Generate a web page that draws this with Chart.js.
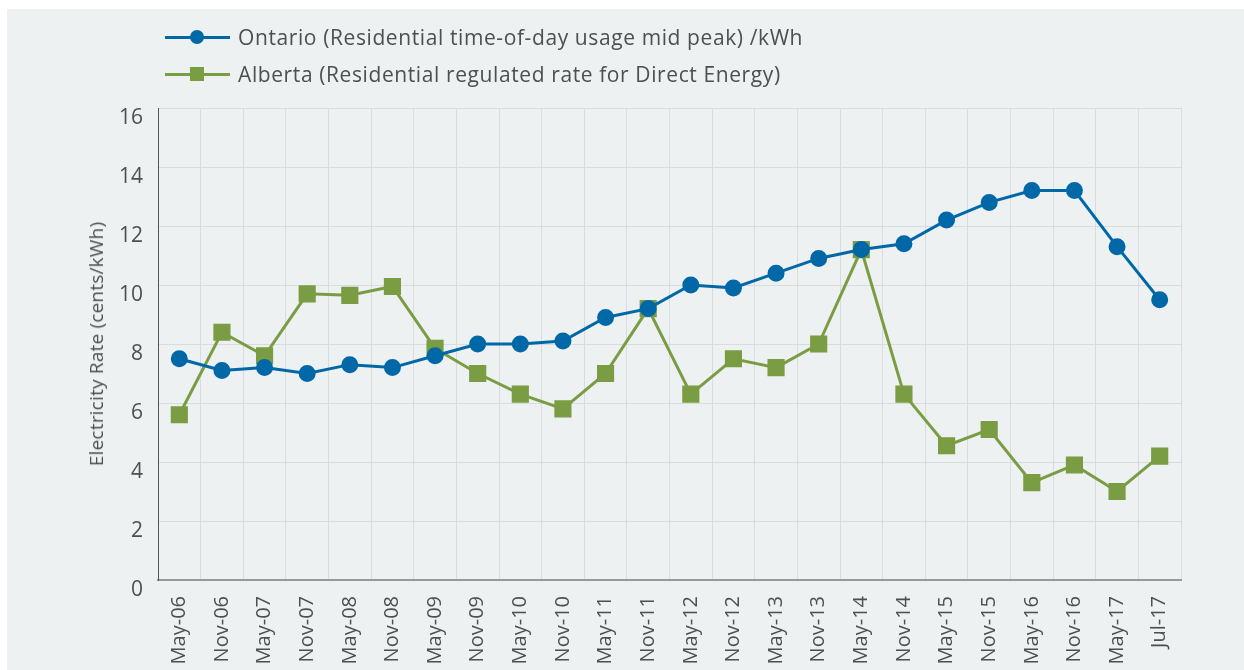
<!DOCTYPE html>
<html>
<head>
<meta charset="utf-8">
<script src="https://cdn.jsdelivr.net/npm/chart.js@4.4.1/dist/chart.umd.min.js"></script>
<style>
  body { margin: 0; background: #fff; width: 1244px; height: 670px; overflow: hidden; font-family: "Open Sans", sans-serif; }
  #panel { position: absolute; left: 7px; top: 9px; width: 1237px; height: 661px; background: #edf1f2; }
  #chart { position: absolute; left: 0; top: 0; }
  .legend { position: absolute; left: 158px; top: 10px; color: #4d4f52; font-size: 21px; letter-spacing: 0.6px; }
  .item { position: relative; height: 37px; line-height: 37px; padding-left: 73px; white-space: nowrap; }
  .line { position: absolute; left: 0; top: 17px; width: 65px; height: 3px; }
  .mark { position: absolute; left: 25px; width: 14px; height: 14px; top: 11px; }
  #ytitle { position: absolute; left: 89px; top: 335px; transform: translate(-50%, -50%) rotate(-90deg);
    white-space: nowrap; color: #4d4f52; font-size: 19px; letter-spacing: 0.2px; }
</style>
</head>
<body>
<div id="panel">
  <canvas id="chart" width="1237" height="661"></canvas>
  <div class="legend">
    <div class="item"><span class="line" style="background:#0068a6"></span><span class="mark" style="background:#0068a6;border-radius:50%"></span>Ontario (Residential time-of-day usage mid peak) /kWh</div>
    <div class="item"><span class="line" style="background:#7a9c43"></span><span class="mark" style="background:#7a9c43"></span>Alberta (Residential regulated rate for Direct Energy)</div>
  </div>
  <div id="ytitle">Electricity Rate (cents/kWh)</div>
</div>
<script>
/* DATA */
const labels = ["May-06", "Nov-06", "May-07", "Nov-07", "May-08", "Nov-08", "May-09", "Nov-09",
  "May-10", "Nov-10", "May-11", "Nov-11", "May-12", "Nov-12", "May-13", "Nov-13",
  "May-14", "Nov-14", "May-15", "Nov-15", "May-16", "Nov-16", "May-17", "Jul-17"];

const ontario = [7.5, 7.1, 7.2, 7.0, 7.3, 7.2, 7.6, 8.0, 8.0, 8.1, 8.9, 9.2,
  10.0, 9.9, 10.4, 10.9, 11.2, 11.4, 12.2, 12.8, 13.2, 13.2, 11.3, 9.5];

const alberta = [5.6, 8.4, 7.6, 9.7, 9.65, 9.95, 7.85, 7.0, 6.3, 5.8, 7.0, 9.2,
  6.3, 7.5, 7.2, 8.0, 11.2, 6.3, 4.55, 5.1, 3.3, 3.9, 3.0, 4.2];

const yMin = 0;
const yMax = 16;
const yStep = 2;

const textColor = "#4d4f52";
const gridColor = "#d9dcde";

new Chart(document.getElementById("chart"), {
  type: "line",
  data: {
    labels: labels,
    datasets: [
      {
        label: "Ontario (Residential time-of-day usage mid peak) /kWh",
        data: ontario,
        borderColor: "#0068a6",
        backgroundColor: "#0068a6",
        borderWidth: 3,
        pointStyle: "circle",
        pointRadius: 7,
        pointHoverRadius: 7,
        tension: 0
      },
      {
        label: "Alberta (Residential regulated rate for Direct Energy)",
        data: alberta,
        borderColor: "#7a9c43",
        backgroundColor: "#7a9c43",
        borderWidth: 3,
        pointStyle: "rect",
        pointRadius: 10,
        pointHoverRadius: 10,
        tension: 0
      }
    ]
  },
  options: {
    responsive: false,
    animation: false,
    layout: { padding: { top: 99, right: 63, left: 0, bottom: 0 } },
    plugins: {
      legend: { display: false },
      tooltip: { enabled: false }
    },
    scales: {
      x: {
        offset: true,
        grid: { color: gridColor, lineWidth: 1, offset: true, drawTicks: false },
        border: { color: "#999", width: 2 },
        ticks: {
          color: textColor,
          font: { family: "Open Sans", size: 20 },
          minRotation: 90,
          maxRotation: 90,
          padding: 16,
          autoSkip: false
        },
        afterFit: s => { s.height = 90; }
      },
      y: {
        min: yMin,
        max: yMax,
        grid: { color: gridColor, lineWidth: 1, drawTicks: false },
        border: { color: "#555", width: 1 },
        ticks: {
          stepSize: yStep,
          color: textColor,
          font: { family: "Open Sans", size: 21 },
          padding: 15,
          labelOffset: 10
        },
        afterFit: s => { s.width = 151; }
      }
    }
  }
});
</script>
</body>
</html>
